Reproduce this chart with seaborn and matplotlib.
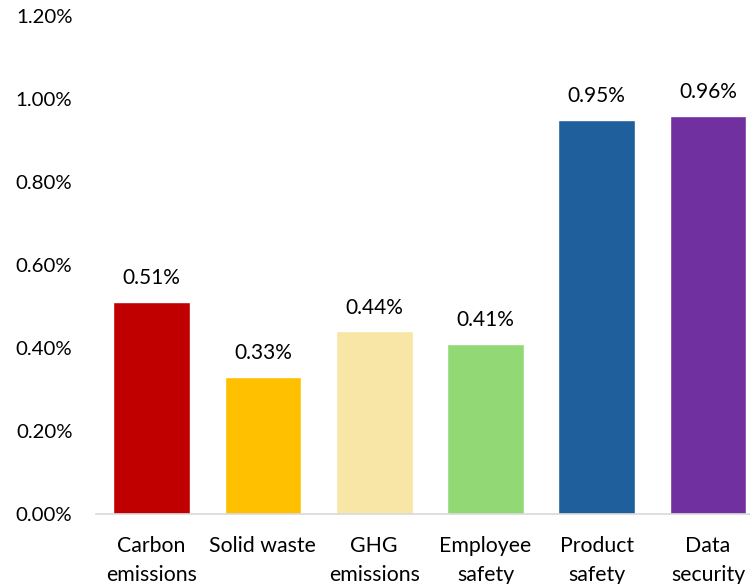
import matplotlib
matplotlib.use("Agg")
import matplotlib.pyplot as plt
import seaborn as sns
import pandas as pd

categories = ["Carbon\nemissions", "Solid waste", "GHG\nemissions", "Employee\nsafety", "Product\nsafety", "Data\nsecurity"]
values = [0.51, 0.33, 0.44, 0.41, 0.95, 0.96]
colors = ["#C00000", "#FFC000", "#F7E6A6", "#92D975", "#1F5F9B", "#7030A0"]
yticks = [0.0, 0.2, 0.4, 0.6, 0.8, 1.0, 1.2]

sns.set_theme(style="white")
plt.rcParams["font.family"] = ["Lato", "DejaVu Sans"]

df = pd.DataFrame({"cat": categories, "val": values})

fig = plt.figure(figsize=(7.5, 5.84), dpi=100)
ax = fig.add_axes([96 / 750, (584 - 514) / 584, 1 - 96 / 750, (514 - 16) / 584])
sns.barplot(data=df, x="cat", y="val", hue="cat", palette=colors, dodge=False,
            width=0.69, legend=False, ax=ax, saturation=1)

ax.set_ylim(0, 1.2)
ax.set_xlim(-0.5, 5.377)
ax.set_yticks(yticks)
ax.set_yticklabels([f"{v:.2f}%" for v in yticks], fontsize=14.7, color="#000000")
ax.tick_params(axis="y", length=0, pad=17)
ax.tick_params(axis="x", length=0, pad=15.5, labelsize=15.3, labelcolor="#000000")
for lbl in ax.get_xticklabels():
    lbl.set_linespacing(1.62)
ax.set_xlabel("")
ax.set_ylabel("")
for s in ["top", "right", "left"]:
    ax.spines[s].set_visible(False)
ax.spines["bottom"].set_color("#D9D9D9")
ax.spines["bottom"].set_linewidth(1.2)

for i, v in enumerate(values):
    ax.annotate(f"{v:.2f}%", (i, v), xytext=(0, 10), textcoords="offset points",
                ha="center", va="bottom", fontsize=15, color="#000000")

fig.savefig("out.png", dpi=100)
